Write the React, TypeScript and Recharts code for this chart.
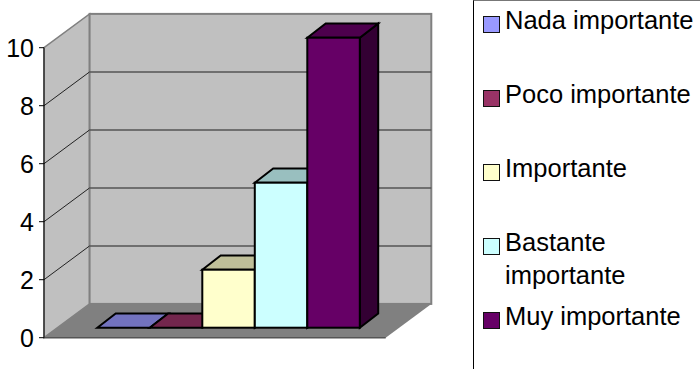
import React from "react";
import {
  BarChart,
  Bar,
  XAxis,
  YAxis,
  CartesianGrid,
  Legend,
  Customized,
} from "recharts";

const seriesNames = [
  "Nada importante",
  "Poco importante",
  "Importante",
  "Bastante importante",
  "Muy importante",
];
const seriesValues = [0, 0, 2, 5, 10];
const yTicks = [0, 2, 4, 6, 8, 10];

const frontColors = ["#9999FF", "#993366", "#FFFFCC", "#CCFFFF", "#660066"];
const topColors = ["#7373BF", "#73264D", "#BFBF99", "#99BFBF", "#4D004D"];
const sideColors = ["#4D4D80", "#4D1A33", "#808066", "#668080", "#330033"];

const FONT = '"Liberation Sans", Arial, sans-serif';

// oblique projection of the box: how far the floor/walls and bars recede
const PLOT = { left: 44, top: 47.7, width: 341.7, height: 290 };
const WALL = { dx: 45.6, dy: -33.8 };
const BAR_OFFSET = { dx: 13.3, dy: -10 };
const BAR_DEPTH = { dx: 18.4, dy: -14.2 };

const chartData = [
  seriesNames.reduce<Record<string, string | number>>(
    (row, name, i) => {
      row[name] = seriesValues[i];
      return row;
    },
    { category: "" }
  ),
];

const Walls = () => {
  const l = PLOT.left;
  const r = PLOT.left + PLOT.width;
  const t = PLOT.top;
  const b = PLOT.top + PLOT.height;
  const { dx, dy } = WALL;
  return (
    <g>
      <polygon
        points={`${l},${t} ${l + dx},${t + dy} ${l + dx},${b + dy} ${l},${b}`}
        fill="#C0C0C0"
        stroke="#808080"
        strokeWidth={1.5}
      />
      <rect
        x={l + dx}
        y={t + dy}
        width={r - l}
        height={b - t}
        fill="#C0C0C0"
        stroke="#808080"
        strokeWidth={2}
      />
      <polygon
        points={`${l},${b} ${l + dx},${b + dy} ${r + dx},${b + dy} ${r},${b}`}
        fill="#808080"
      />
      <line x1={l} y1={b} x2={r} y2={b} stroke="#555" strokeWidth={1.5} />
    </g>
  );
};

const GridLine = (props: any) => {
  const { x1, x2, y1, index } = props;
  // first and last tick are the floor and the top of the wall
  if (y1 <= PLOT.top + 1 || y1 >= PLOT.top + PLOT.height - 1) return <g key={index} />;
  return (
    <g key={index}>
      <line x1={x1} y1={y1} x2={x1 + WALL.dx} y2={y1 + WALL.dy} stroke="#222" strokeWidth={1} />
      <line
        x1={x1 + WALL.dx}
        y1={y1 + WALL.dy}
        x2={x2 + WALL.dx}
        y2={y1 + WALL.dy}
        stroke="#555"
        strokeWidth={1.5}
      />
    </g>
  );
};

const Box3D = (props: any) => {
  const { x, y, width, height, index } = props;
  const i = props.seriesIndex ?? index;
  const x0 = x + BAR_OFFSET.dx;
  const y0 = y + BAR_OFFSET.dy;
  const x1 = x0 + width;
  const y1 = y0 + height;
  const { dx, dy } = BAR_DEPTH;
  return (
    <g stroke="#000" strokeWidth={2} strokeLinejoin="miter">
      <polygon
        points={`${x1},${y0} ${x1 + dx},${y0 + dy} ${x1 + dx},${y1 + dy} ${x1},${y1}`}
        fill={sideColors[i]}
      />
      <polygon
        points={`${x0},${y0} ${x0 + dx},${y0 + dy} ${x1 + dx},${y0 + dy} ${x1},${y0}`}
        fill={topColors[i]}
      />
      <rect x={x0} y={y0} width={width} height={height} fill={frontColors[i]} />
    </g>
  );
};

const LegendBox = () => (
  <div
    style={{
      position: "relative",
      width: 226,
      height: 368,
      borderLeft: "1px solid #000",
      borderTop: "1px solid #777",
      fontFamily: FONT,
      fontSize: 25.5,
      lineHeight: "33px",
      color: "#000",
      textAlign: "left",
    }}
  >
    {seriesNames.map((name, i) => (
      <div key={name} style={{ position: "absolute", left: 0, top: 2.5 + i * 74, width: 226 }}>
        <span
          style={{
            position: "absolute",
            left: 9,
            top: 12.5,
            width: 14.5,
            height: 14.5,
            background: frontColors[i],
            border: "1.5px solid #111",
          }}
        />
        <div style={{ position: "absolute", left: 31, top: 0, width: 194 }}>
          {name === "Bastante importante" ? (
            <>
              Bastante
              <br />
              importante
            </>
          ) : (
            name
          )}
        </div>
      </div>
    ))}
  </div>
);

export default function App() {
  return (
    <div style={{ position: "absolute", left: 0, top: 0, width: 700, height: 369 }}>
      <BarChart
        width={700}
        height={369}
        data={chartData}
        margin={{ top: PLOT.top, left: 0, right: 87.3, bottom: 31.3 }}
        barGap={0}
        barSize={52.5}
      >
        <Customized component={<Walls />} />
        <CartesianGrid vertical={false} horizontal={GridLine} stroke="#555" zIndex={1} />
        <XAxis dataKey="category" hide />
        <YAxis
          width={44}
          domain={[0, 10]}
          ticks={yTicks}
          interval={0}
          tickSize={5}
          tickMargin={5}
          stroke="#000"
          tick={{ fill: "#000", fontSize: 25, fontFamily: FONT }}
        />
        <Legend
          layout="vertical"
          align="right"
          verticalAlign="top"
          width={227}
          height={369}
          wrapperStyle={{ left: 473, top: 0, right: "auto" }}
          content={<LegendBox />}
        />
        {seriesNames.map((name, i) => (
          <Bar
            key={name}
            dataKey={name}
            isAnimationActive={false}
            fill={frontColors[i]}
            shape={(p: any) => <Box3D {...p} seriesIndex={i} />}
          />
        ))}
      </BarChart>
    </div>
  );
}
